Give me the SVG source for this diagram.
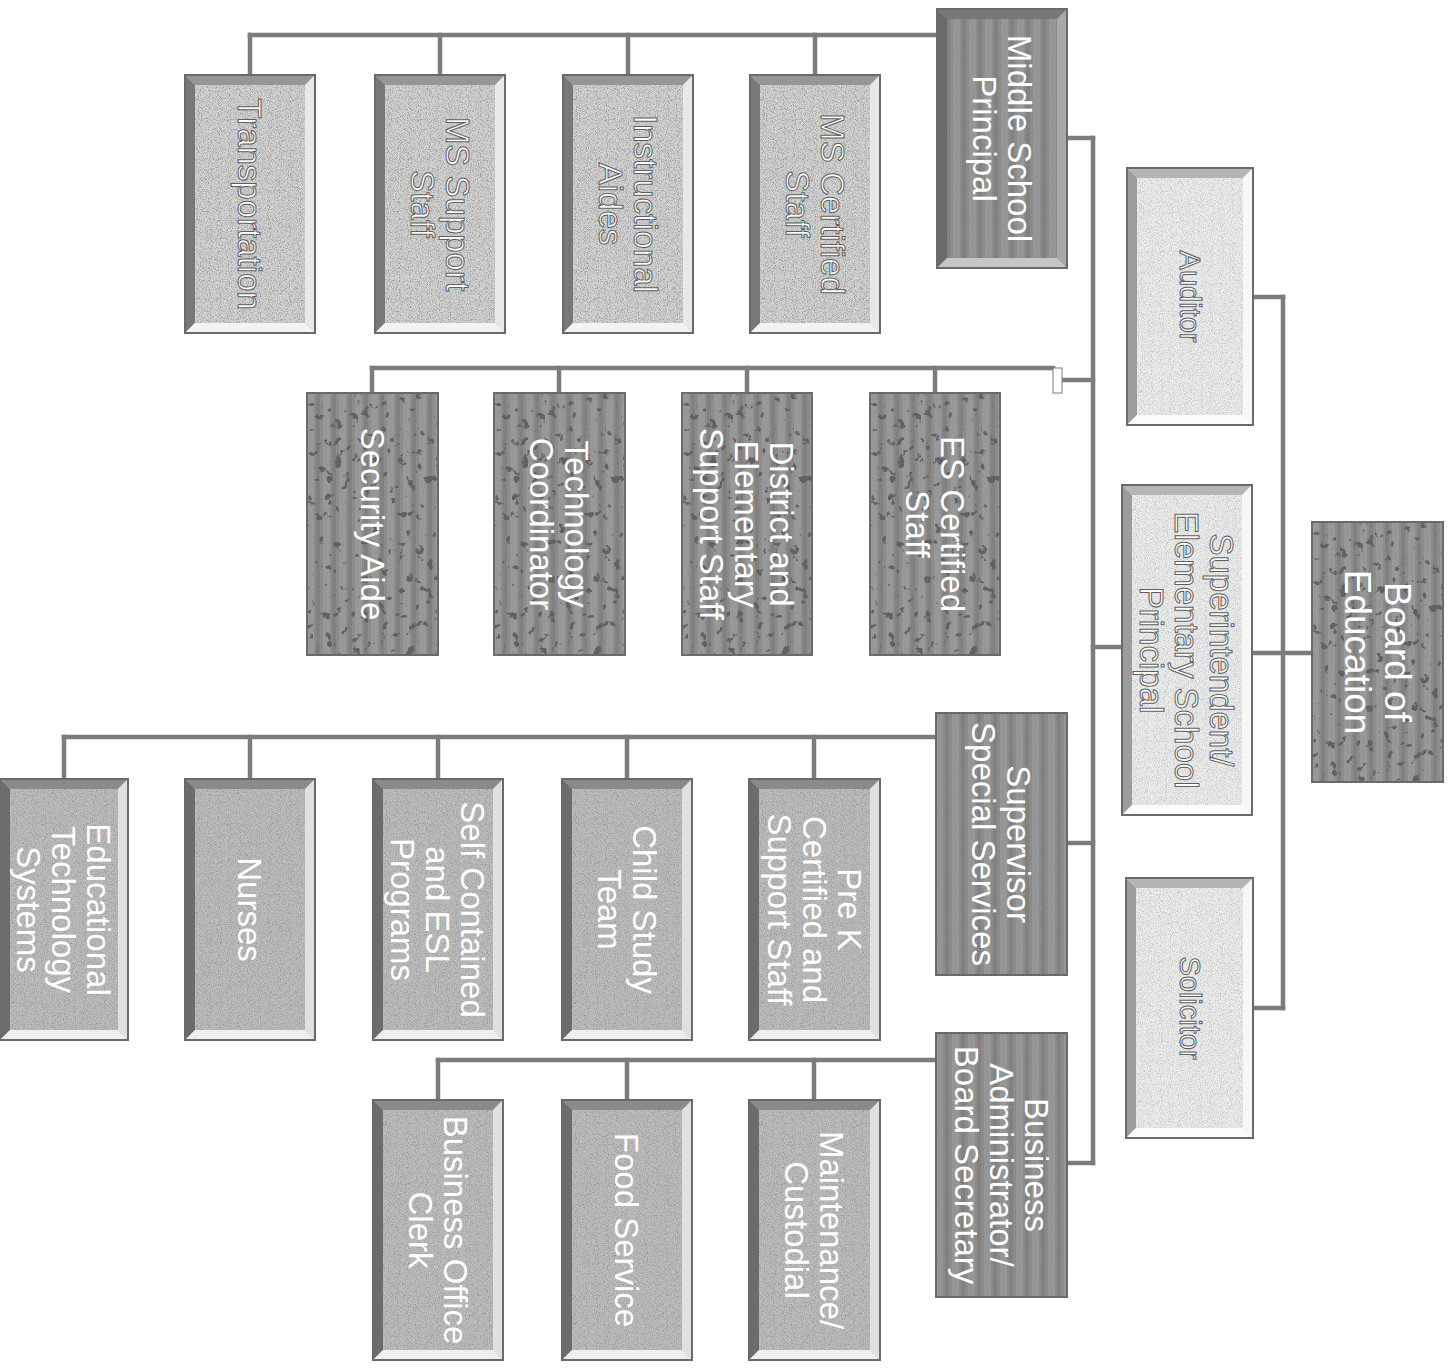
<svg xmlns="http://www.w3.org/2000/svg" width="1450" height="1369" viewBox="0 0 1450 1369">
<style>
text{font-family:"Liberation Sans",Arial,sans-serif;font-size:33px;text-anchor:middle}
.t-w{fill:#ffffff}
.t-o{fill:#ffffff;stroke:#5e5e5e;stroke-width:1px}
.t-big{font-size:37px}
.t-sm{font-size:29px}
.conn{fill:none;stroke:#7c7c7c;stroke-width:4.5;stroke-linecap:square}
.edge{fill:none;stroke:#6a6a6a;stroke-width:2}
.grain{fill:#000;filter:url(#noise)}
.blob{fill:#000;filter:url(#blobs)}
.med .base{fill:#d2d2d2}.med .bt{fill:#969696}.med .bl{fill:#787878}.med .br{fill:#e8e8e8}.med .bb{fill:#f3f3f3}
.med2 .base{fill:#bcbcbc}.med2 .bt{fill:#8a8a8a}.med2 .bl{fill:#6c6c6c}.med2 .br{fill:#e0e0e0}.med2 .bb{fill:#eeeeee}
.light .base{fill:#ececec}.light .bt{fill:#b5b5b5}.light .bl{fill:#9c9c9c}.light .br{fill:#f7f7f7}.light .bb{fill:#fbfbfb}
.dark .base{fill:#8a8a8a}.dark .bt{fill:#777}.dark .bl{fill:#6a6a6a}.dark .br{fill:#a8a8a8}.dark .bb{fill:#c6c6c6}
.spot .base{fill:#8c8c8c}
.stripe{fill:url(#stripes)}
</style>
<defs>
<filter id="noise" x="0" y="0" width="100%" height="100%">
<feTurbulence type="fractalNoise" baseFrequency="1.1" numOctaves="1" seed="4"/>
<feColorMatrix type="matrix" values="0 0 0 0 0.3 0 0 0 0 0.3 0 0 0 0 0.3 3 0 0 0 -1.35"/>
</filter>
<filter id="blobs" x="0" y="0" width="100%" height="100%">
<feTurbulence type="fractalNoise" baseFrequency="0.11" numOctaves="3" seed="9"/>
<feColorMatrix type="matrix" values="0 0 0 0 0.12 0 0 0 0 0.12 0 0 0 0 0.12 14 0 0 0 -9.0"/>
</filter>
<pattern id="stripes" width="16" height="20" patternUnits="userSpaceOnUse">
<rect x="0" y="0" width="7" height="20" fill="#ffffff" opacity="0.10"/>
<rect x="9" y="0" width="4" height="20" fill="#000000" opacity="0.08"/>
</pattern>
</defs>

<g id="connectors">
<path class="conn" d="M1252,653 H1312"/>
<path class="conn" d="M1283,297 V1008"/>
<path class="conn" d="M1253,297 H1283"/>
<path class="conn" d="M1253,1008 H1283"/>
<path class="conn" d="M1122,647 H1093"/>
<path class="conn" d="M1093,138 V1163"/>
<path class="conn" d="M1067,138 H1093"/>
<path class="conn" d="M937,35 H250"/>
<path class="conn" d="M250,35 V75 M440,35 V75 M628,35 V75 M815,35 V75"/>
<path class="conn" d="M1093,380 H1063"/>
<path class="conn" d="M1053,368 H372"/>
<path class="conn" d="M372,368 V393 M559,368 V393 M747,368 V393 M935,368 V393"/>
<rect x="1053" y="368" width="9" height="25" fill="#ffffff" stroke="#7c7c7c" stroke-width="1"/>
<path class="conn" d="M1067,843 H1093"/>
<path class="conn" d="M936,737 H64"/>
<path class="conn" d="M64,737 V779 M250,737 V779 M438,737 V779 M627,737 V779 M814,737 V779"/>
<path class="conn" d="M1067,1163 H1093"/>
<path class="conn" d="M936,1060 H438"/>
<path class="conn" d="M438,1060 V1100 M627,1060 V1100 M814,1060 V1100"/>
</g>

<g id="board" class="node spot" transform="translate(1312,522)">
<rect class="base" width="131" height="260"/><rect class="stripe" width="131" height="260"/><rect class="blob" width="131" height="260"/>
<rect class="edge" width="131" height="260"/>
<text class="t-w t-big" transform="translate(65.5,130) rotate(90)"><tspan x="0" y="-7">Board of</tspan><tspan x="0" y="33">Education</tspan></text>
</g>

<g id="superintendent" class="node light" transform="translate(1122,485)">
<rect class="base" width="130" height="330"/><rect class="grain" width="130" height="330" opacity="0.5"/>
<polygon class="bt" points="0,0 130,0 120,10 10,10"/><polygon class="bl" points="0,0 10,10 10,320 0,330"/>
<polygon class="br" points="130,0 130,330 120,320 120,10"/><polygon class="bb" points="0,330 10,320 120,320 130,330"/>
<rect class="edge" width="130" height="330"/>
<text class="t-o" transform="translate(65,165) rotate(90)"><tspan x="0" y="-23">Superintendent/</tspan><tspan x="0" y="12">Elementary School</tspan><tspan x="0" y="47">Principal</tspan></text>
</g>

<g id="auditor" class="node light" transform="translate(1127,168)">
<rect class="base" width="126" height="257"/><rect class="grain" width="126" height="257" opacity="0.5"/>
<polygon class="bt" points="0,0 126,0 116,10 10,10"/><polygon class="bl" points="0,0 10,10 10,247 0,257"/>
<polygon class="br" points="126,0 126,257 116,247 116,10"/><polygon class="bb" points="0,257 10,247 116,247 126,257"/>
<rect class="edge" width="126" height="257"/>
<text class="t-o t-sm" transform="translate(63,128.5) rotate(90)"><tspan x="0" y="10">Auditor</tspan></text>
</g>

<g id="solicitor" class="node light" transform="translate(1126,878)">
<rect class="base" width="127" height="260"/><rect class="grain" width="127" height="260" opacity="0.5"/>
<polygon class="bt" points="0,0 127,0 117,10 10,10"/><polygon class="bl" points="0,0 10,10 10,250 0,260"/>
<polygon class="br" points="127,0 127,260 117,250 117,10"/><polygon class="bb" points="0,260 10,250 117,250 127,260"/>
<rect class="edge" width="127" height="260"/>
<text class="t-o t-sm" transform="translate(63.5,130) rotate(90)"><tspan x="0" y="10">Solicitor</tspan></text>
</g>

<g id="ms-principal" class="node dark" transform="translate(937,9)">
<rect class="base" width="130" height="259"/><rect class="stripe" width="130" height="259"/><rect class="grain" width="130" height="259" opacity="0.5"/>
<polygon class="bt" points="0,0 130,0 120,10 10,10"/><polygon class="bl" points="0,0 10,10 10,249 0,259"/>
<polygon class="br" points="130,0 130,259 120,249 120,10"/><polygon class="bb" points="0,259 10,249 120,249 130,259"/>
<rect class="edge" width="130" height="259"/>
<text class="t-w" transform="translate(65,129.5) rotate(90)"><tspan x="0" y="-5.5">Middle School</tspan><tspan x="0" y="29.5">Principal</tspan></text>
</g>

<g id="supervisor" class="node dark" transform="translate(936,713)">
<rect class="base" width="131" height="262"/><rect class="stripe" width="131" height="262"/><rect class="grain" width="131" height="262" opacity="0.5"/>
<rect class="edge" width="131" height="262"/>
<text class="t-w" transform="translate(65.5,131) rotate(90)"><tspan x="0" y="-5.5">Supervisor</tspan><tspan x="0" y="29.5">Special Services</tspan></text>
</g>

<g id="business-admin" class="node dark" transform="translate(936,1033)">
<rect class="base" width="131" height="264"/><rect class="stripe" width="131" height="264"/><rect class="grain" width="131" height="264" opacity="0.5"/>
<rect class="edge" width="131" height="264"/>
<text class="t-w" transform="translate(65.5,132) rotate(90)"><tspan x="0" y="-23">Business</tspan><tspan x="0" y="12">Administrator/</tspan><tspan x="0" y="47">Board Secretary</tspan></text>
</g>

<g id="transportation" class="node med" transform="translate(185,75)">
<rect class="base" width="130" height="258"/><rect class="grain" width="130" height="258"/>
<polygon class="bt" points="0,0 130,0 120,10 10,10"/><polygon class="bl" points="0,0 10,10 10,248 0,258"/>
<polygon class="br" points="130,0 130,258 120,248 120,10"/><polygon class="bb" points="0,258 10,248 120,248 130,258"/>
<rect class="edge" width="130" height="258"/>
<text class="t-o" transform="translate(65,129) rotate(90)"><tspan x="0" y="12">Transportation</tspan></text>
</g>

<g id="ms-support-staff" class="node med" transform="translate(375,75)">
<rect class="base" width="130" height="258"/><rect class="grain" width="130" height="258"/>
<polygon class="bt" points="0,0 130,0 120,10 10,10"/><polygon class="bl" points="0,0 10,10 10,248 0,258"/>
<polygon class="br" points="130,0 130,258 120,248 120,10"/><polygon class="bb" points="0,258 10,248 120,248 130,258"/>
<rect class="edge" width="130" height="258"/>
<text class="t-o" transform="translate(65,129) rotate(90)"><tspan x="0" y="-5.5">MS Support</tspan><tspan x="0" y="29.5">Staff</tspan></text>
</g>

<g id="instructional-aides" class="node med" transform="translate(563,75)">
<rect class="base" width="130" height="258"/><rect class="grain" width="130" height="258"/>
<polygon class="bt" points="0,0 130,0 120,10 10,10"/><polygon class="bl" points="0,0 10,10 10,248 0,258"/>
<polygon class="br" points="130,0 130,258 120,248 120,10"/><polygon class="bb" points="0,258 10,248 120,248 130,258"/>
<rect class="edge" width="130" height="258"/>
<text class="t-o" transform="translate(65,129) rotate(90)"><tspan x="0" y="-5.5">Instructional</tspan><tspan x="0" y="29.5">Aides</tspan></text>
</g>

<g id="ms-certified-staff" class="node med" transform="translate(750,75)">
<rect class="base" width="130" height="258"/><rect class="grain" width="130" height="258"/>
<polygon class="bt" points="0,0 130,0 120,10 10,10"/><polygon class="bl" points="0,0 10,10 10,248 0,258"/>
<polygon class="br" points="130,0 130,258 120,248 120,10"/><polygon class="bb" points="0,258 10,248 120,248 130,258"/>
<rect class="edge" width="130" height="258"/>
<text class="t-o" transform="translate(65,129) rotate(90)"><tspan x="0" y="-5.5">MS Certified</tspan><tspan x="0" y="29.5">Staff</tspan></text>
</g>

<g id="security-aide" class="node spot" transform="translate(307,393)">
<rect class="base" width="131" height="262"/><rect class="stripe" width="131" height="262"/><rect class="blob" width="131" height="262"/>
<rect class="edge" width="131" height="262"/>
<text class="t-w" transform="translate(65.5,131) rotate(90)"><tspan x="0" y="12">Security Aide</tspan></text>
</g>

<g id="technology-coordinator" class="node spot" transform="translate(494,393)">
<rect class="base" width="131" height="262"/><rect class="stripe" width="131" height="262"/><rect class="blob" width="131" height="262"/>
<rect class="edge" width="131" height="262"/>
<text class="t-w" transform="translate(65.5,131) rotate(90)"><tspan x="0" y="-5.5">Technology</tspan><tspan x="0" y="29.5">Coordinator</tspan></text>
</g>

<g id="district-elementary-support" class="node spot" transform="translate(682,393)">
<rect class="base" width="130" height="262"/><rect class="stripe" width="130" height="262"/><rect class="blob" width="130" height="262"/>
<rect class="edge" width="130" height="262"/>
<text class="t-w" transform="translate(65,131) rotate(90)"><tspan x="0" y="-23">District and</tspan><tspan x="0" y="12">Elementary</tspan><tspan x="0" y="47">Support Staff</tspan></text>
</g>

<g id="es-certified-staff" class="node spot" transform="translate(870,393)">
<rect class="base" width="130" height="262"/><rect class="stripe" width="130" height="262"/><rect class="blob" width="130" height="262"/>
<rect class="edge" width="130" height="262"/>
<text class="t-w" transform="translate(65,131) rotate(90)"><tspan x="0" y="-5.5">ES Certified</tspan><tspan x="0" y="29.5">Staff</tspan></text>
</g>

<g id="educational-technology" class="node med2" transform="translate(0,779)">
<rect class="base" width="128" height="261"/><rect class="grain" width="128" height="261"/>
<polygon class="bt" points="0,0 128,0 118,10 10,10"/><polygon class="bl" points="0,0 10,10 10,251 0,261"/>
<polygon class="br" points="128,0 128,261 118,251 118,10"/><polygon class="bb" points="0,261 10,251 118,251 128,261"/>
<rect class="edge" width="128" height="261"/>
<text class="t-w" transform="translate(64,130.5) rotate(90)"><tspan x="0" y="-23">Educational</tspan><tspan x="0" y="12">Technology</tspan><tspan x="0" y="47">Systems</tspan></text>
</g>

<g id="nurses" class="node med2" transform="translate(185,779)">
<rect class="base" width="130" height="261"/><rect class="grain" width="130" height="261"/>
<polygon class="bt" points="0,0 130,0 120,10 10,10"/><polygon class="bl" points="0,0 10,10 10,251 0,261"/>
<polygon class="br" points="130,0 130,261 120,251 120,10"/><polygon class="bb" points="0,261 10,251 120,251 130,261"/>
<rect class="edge" width="130" height="261"/>
<text class="t-w" transform="translate(65,130.5) rotate(90)"><tspan x="0" y="12">Nurses</tspan></text>
</g>

<g id="self-contained-esl" class="node med2" transform="translate(373,779)">
<rect class="base" width="130" height="261"/><rect class="grain" width="130" height="261"/>
<polygon class="bt" points="0,0 130,0 120,10 10,10"/><polygon class="bl" points="0,0 10,10 10,251 0,261"/>
<polygon class="br" points="130,0 130,261 120,251 120,10"/><polygon class="bb" points="0,261 10,251 120,251 130,261"/>
<rect class="edge" width="130" height="261"/>
<text class="t-w" transform="translate(65,130.5) rotate(90)"><tspan x="0" y="-23">Self Contained</tspan><tspan x="0" y="12">and ESL</tspan><tspan x="0" y="47">Programs</tspan></text>
</g>

<g id="child-study-team" class="node med2" transform="translate(562,779)">
<rect class="base" width="130" height="261"/><rect class="grain" width="130" height="261"/>
<polygon class="bt" points="0,0 130,0 120,10 10,10"/><polygon class="bl" points="0,0 10,10 10,251 0,261"/>
<polygon class="br" points="130,0 130,261 120,251 120,10"/><polygon class="bb" points="0,261 10,251 120,251 130,261"/>
<rect class="edge" width="130" height="261"/>
<text class="t-w" transform="translate(65,130.5) rotate(90)"><tspan x="0" y="-5.5">Child Study</tspan><tspan x="0" y="29.5">Team</tspan></text>
</g>

<g id="pre-k" class="node med2" transform="translate(749,779)">
<rect class="base" width="131" height="261"/><rect class="grain" width="131" height="261"/>
<polygon class="bt" points="0,0 131,0 121,10 10,10"/><polygon class="bl" points="0,0 10,10 10,251 0,261"/>
<polygon class="br" points="131,0 131,261 121,251 121,10"/><polygon class="bb" points="0,261 10,251 121,251 131,261"/>
<rect class="edge" width="131" height="261"/>
<text class="t-w" transform="translate(65.5,130.5) rotate(90)"><tspan x="0" y="-23">Pre K</tspan><tspan x="0" y="12">Certified and</tspan><tspan x="0" y="47">Support Staff</tspan></text>
</g>

<g id="business-office-clerk" class="node med2" transform="translate(373,1100)">
<rect class="base" width="130" height="260"/><rect class="grain" width="130" height="260"/>
<polygon class="bt" points="0,0 130,0 120,10 10,10"/><polygon class="bl" points="0,0 10,10 10,250 0,260"/>
<polygon class="br" points="130,0 130,260 120,250 120,10"/><polygon class="bb" points="0,260 10,250 120,250 130,260"/>
<rect class="edge" width="130" height="260"/>
<text class="t-w" transform="translate(65,130) rotate(90)"><tspan x="0" y="-5.5">Business Office</tspan><tspan x="0" y="29.5">Clerk</tspan></text>
</g>

<g id="food-service" class="node med2" transform="translate(562,1100)">
<rect class="base" width="130" height="260"/><rect class="grain" width="130" height="260"/>
<polygon class="bt" points="0,0 130,0 120,10 10,10"/><polygon class="bl" points="0,0 10,10 10,250 0,260"/>
<polygon class="br" points="130,0 130,260 120,250 120,10"/><polygon class="bb" points="0,260 10,250 120,250 130,260"/>
<rect class="edge" width="130" height="260"/>
<text class="t-w" transform="translate(65,130) rotate(90)"><tspan x="0" y="12">Food Service</tspan></text>
</g>

<g id="maintenance-custodial" class="node med2" transform="translate(749,1100)">
<rect class="base" width="131" height="260"/><rect class="grain" width="131" height="260"/>
<polygon class="bt" points="0,0 131,0 121,10 10,10"/><polygon class="bl" points="0,0 10,10 10,250 0,260"/>
<polygon class="br" points="131,0 131,260 121,250 121,10"/><polygon class="bb" points="0,260 10,250 121,250 131,260"/>
<rect class="edge" width="131" height="260"/>
<text class="t-w" transform="translate(65.5,130) rotate(90)"><tspan x="0" y="-5.5">Maintenance/</tspan><tspan x="0" y="29.5">Custodial</tspan></text>
</g>
</svg>
